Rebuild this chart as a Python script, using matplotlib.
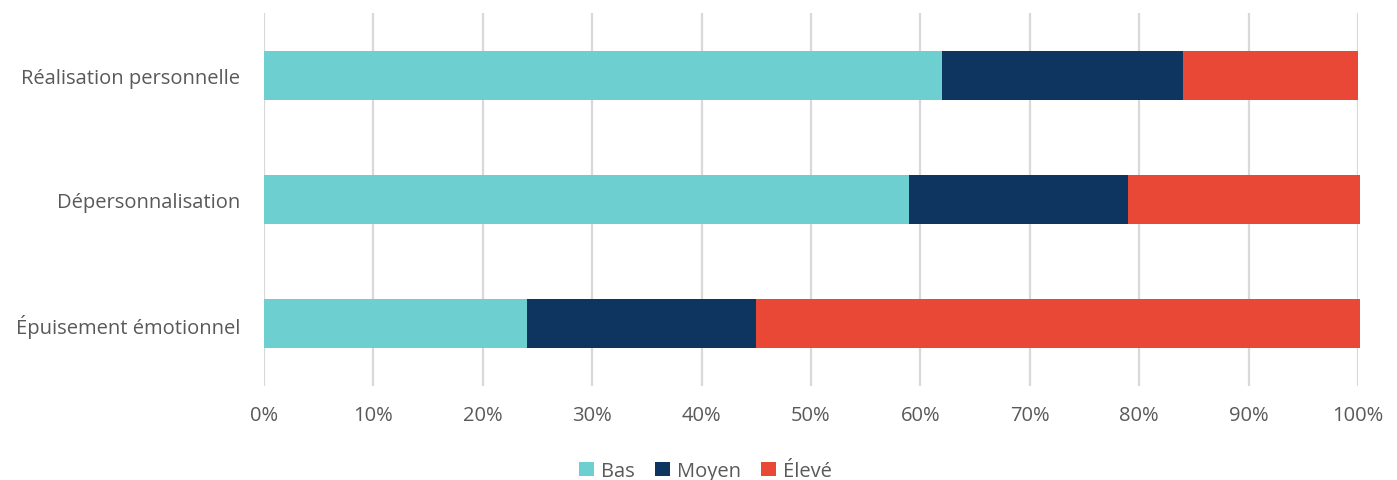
import numpy as np
import matplotlib.pyplot as plt

# Data (percent), bottom-to-top order
categories = ["Épuisement émotionnel", "Dépersonnalisation", "Réalisation personnelle"]
bas = [24, 59, 62]
moyen = [21, 20, 22]
eleve = [55.2, 21.2, 16]
series_names = ["Bas", "Moyen", "Élevé"]
colors = ["#6dcfd0", "#0e3560", "#e94837"]
xticks = [0, 10, 20, 30, 40, 50, 60, 70, 80, 90, 100]

plt.rcParams['font.family'] = ['Open Sans', 'DejaVu Sans']

fig = plt.figure(figsize=(13.97, 4.81), dpi=100)
ax = fig.add_axes([264 / 1397, 1 - 386.5 / 481, (1358 - 264) / 1397, (386.5 - 14) / 481])

y = np.arange(len(categories))
left = np.zeros(len(categories))
for vals, name, col in zip([bas, moyen, eleve], series_names, colors):
    bars = ax.barh(y, vals, left=left, height=0.395, color=col, label=name, zorder=3)
    for b in bars:
        b.set_clip_on(False)
    left += np.array(vals)

ax.set_xlim(0, 100)
ax.set_ylim(-0.5, 2.5)
ax.set_xticks(xticks)
ax.set_xticklabels([f"{t}%" for t in xticks])
ax.set_yticks(y)
ax.set_yticklabels(categories)
ax.grid(axis='x', color='#d9d9d9', linewidth=1.6, zorder=0)
ax.tick_params(axis='both', length=0, labelsize=14.5, labelcolor='#595959')
ax.tick_params(axis='x', pad=14)
ax.tick_params(axis='y', pad=17)
for s in ax.spines.values():
    s.set_visible(False)

fig.legend(loc='lower center', bbox_to_anchor=(0.505, -0.04), ncol=3, frameon=False,
           fontsize=14.5, labelcolor='#595959', handlelength=0.75, handleheight=0.75,
           handletextpad=0.35, columnspacing=1.0)

fig.savefig("out.png", dpi=100)
